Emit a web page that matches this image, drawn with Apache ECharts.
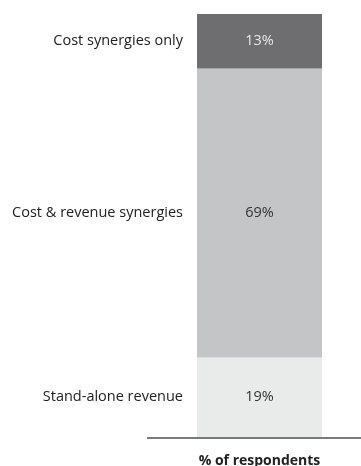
<!DOCTYPE html>
<html>
<head>
<meta charset="utf-8">
<script src="https://cdn.jsdelivr.net/npm/echarts@6/dist/echarts.min.js"></script>
<style>
  html, body { margin: 0; padding: 0; background: #fff; }
  #chart { width: 361px; height: 466px; }
</style>
</head>
<body>
<div id="chart"></div>
<script>
// bottom to top
var names = ['Stand-alone revenue', 'Cost & revenue synergies', 'Cost synergies only'];
var values = [19, 69, 13];
var colors = ['#e9eaea', '#c4c5c7', '#6e6e70'];
var valueColors = ['#333333', '#333333', '#e8e8e8'];
var category = ['respondents'];

var chart = echarts.init(document.getElementById('chart'));

var series = [];
// the visible segments with the value inside
names.forEach(function (n, i) {
  series.push({
    name: n,
    type: 'bar',
    stack: 'share',
    barWidth: '100%',
    barGap: '-100%',
    data: [values[i]],
    itemStyle: { color: colors[i] },
    label: {
      show: true,
      position: 'inside',
      formatter: '{c}%',
      color: valueColors[i],
      fontSize: 14.5,
      fontFamily: 'Open Sans'
    },
    silent: true
  });
});
// transparent copy to carry the name label on the left
names.forEach(function (n, i) {
  series.push({
    name: n,
    type: 'bar',
    stack: 'names',
    barWidth: '100%',
    barGap: '-100%',
    data: [values[i]],
    itemStyle: { color: 'rgba(0,0,0,0)' },
    label: {
      show: true,
      position: 'left',
      distance: 14,
      formatter: '{a}',
      color: '#222',
      fontSize: 14.5,
      fontFamily: 'Open Sans'
    },
    silent: true
  });
});

var option = {
  animation: false,
  grid: { left: 197, right: 39, top: 14, bottom: 29, outerBoundsMode: 'none' },
  xAxis: {
    type: 'category',
    data: category,
    axisLine: { show: false },
    axisTick: { show: false },
    axisLabel: { show: false },
    name: '% of respondents',
    nameLocation: 'middle',
    nameGap: 17,
    nameTextStyle: { fontSize: 14, fontWeight: 'bold', color: '#222', fontFamily: 'Open Sans' }
  },
  yAxis: {
    type: 'value',
    min: 0,
    max: 101,
    show: false
  },
  graphic: [{
    type: 'line',
    shape: { x1: 147, y1: 438, x2: 361, y2: 438 },
    style: { stroke: '#7a7a7a', lineWidth: 2 },
    silent: true
  }],
  series: series
};

chart.setOption(option);
window.onresize = chart.resize;
</script>
</body>
</html>
